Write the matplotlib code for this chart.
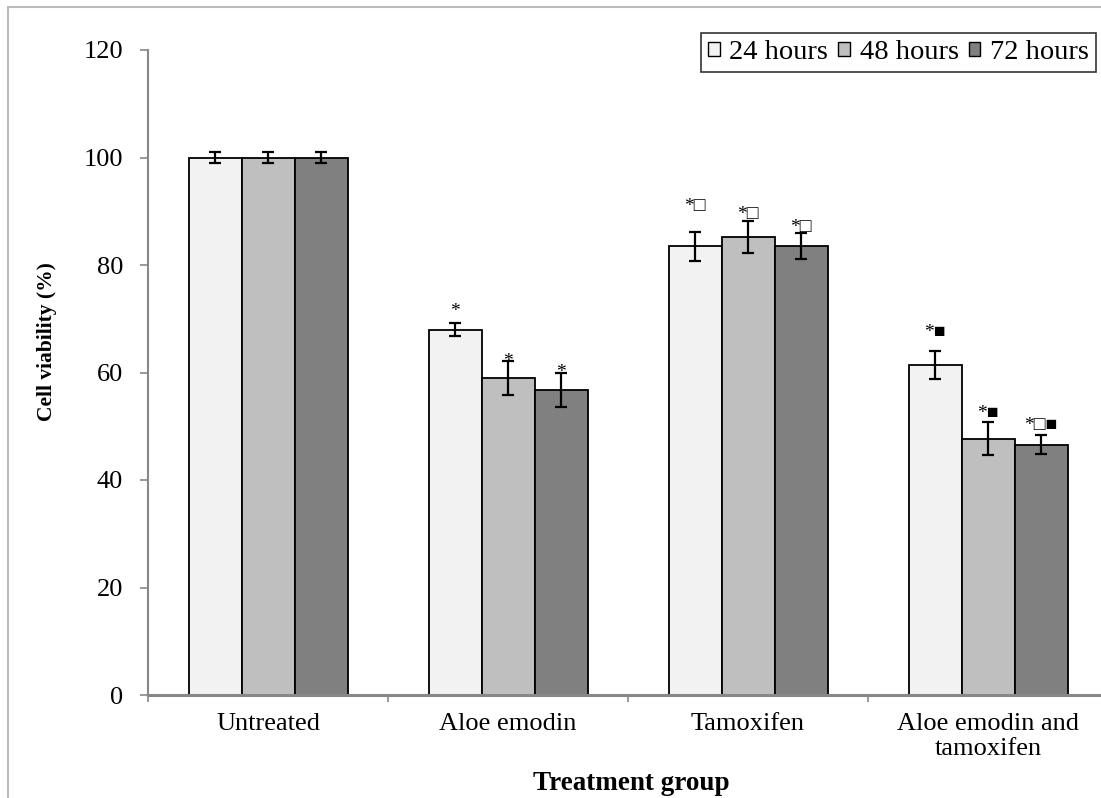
import matplotlib
matplotlib.use("Agg")
import matplotlib.pyplot as plt
import numpy as np
from matplotlib.patches import Rectangle
from matplotlib.ticker import FixedLocator

categories = ["Untreated", "Aloe emodin", "Tamoxifen", "Aloe emodin and\ntamoxifen"]
series_names = ["24 hours", "48 hours", "72 hours"]
values = {
    "24 hours": [100.0, 68.0, 83.5, 61.4],
    "48 hours": [100.0, 59.0, 85.2, 47.7],
    "72 hours": [100.0, 56.8, 83.5, 46.6],
}
errors = {
    "24 hours": [1.0, 1.3, 2.7, 2.6],
    "48 hours": [1.0, 3.1, 3.0, 3.0],
    "72 hours": [1.0, 3.2, 2.4, 1.7],
}
annotations = {
    "24 hours": ["", "*", "*\u25a1", "*\u25a0"],
    "48 hours": ["", "*", "*\u25a1", "*\u25a0"],
    "72 hours": ["", "*", "*\u25a1", "*\u25a1\u25a0"],
}
yticks = [0, 20, 40, 60, 80, 100, 120]

colors = ["#F2F2F2", "#BFBFBF", "#808080"]
# annotation offset above the error cap, in pixels (layout)
ann_offset_px = {
    "24 hours": [0, 11, 25, 19],
    "48 hours": [0, 0, 6, 9],
    "72 hours": [0, 0, 6, 10],
}

W, H = 1101, 798
AX_L, AX_R, AX_T, AX_B = 148, 1108, 50, 695
AW, AH = AX_R - AX_L, AX_B - AX_T
PT = 0.72  # points per pixel at dpi 100

fig = plt.figure(figsize=(W / 100, H / 100), dpi=100)
plt.rcParams["font.family"] = ["Liberation Serif", "DejaVu Sans"]

# outer gray frame
fig.patches.append(Rectangle((8 / W, -0.1), 1.2, 1 - 7 / H + 0.1,
                             transform=fig.transFigure, fill=False,
                             edgecolor="#BBBBBB", linewidth=1.5))

ax = fig.add_axes([AX_L / W, 1 - AX_B / H, AW / W, AH / H])

x = np.arange(len(categories))
bw = 53 / 240
for i, name in enumerate(series_names):
    pos = x + (i - 1) * bw
    ax.bar(pos, values[name], width=bw, color=colors[i], edgecolor="black",
           linewidth=1.3, label=name, zorder=2)
    ax.errorbar(pos, values[name], yerr=errors[name], fmt="none",
                ecolor="black", elinewidth=1.6, capsize=4, capthick=1.6, zorder=3)
    for j, txt in enumerate(annotations[name]):
        if not txt:
            continue
        top = values[name][j] + errors[name][j]
        ax.annotate(txt, (pos[j], top), xytext=(0, ann_offset_px[name][j] * PT),
                    textcoords="offset points", ha="center", va="center",
                    fontsize=14, family=["Liberation Serif", "DejaVu Sans"], zorder=4)

ax.set_xlim(-0.5, len(categories) - 0.5)
ax.set_ylim(0, 120)
ax.set_yticks(yticks)
ax.set_yticklabels([str(t) for t in yticks])
ax.set_xticks(x)
ax.set_xticklabels(categories, linespacing=1.2)
ax.xaxis.set_minor_locator(FixedLocator(np.arange(-0.5, len(categories), 1.0)))

for s in ["top", "right"]:
    ax.spines[s].set_visible(False)
ax.spines["left"].set_color("#888888")
ax.spines["left"].set_linewidth(1.5)
ax.spines["bottom"].set_color("#888888")
ax.spines["bottom"].set_linewidth(2.2)

ax.tick_params(axis="y", direction="out", length=6, width=1.2, color="#888888",
               pad=12, labelsize=19)
ax.tick_params(axis="x", which="major", length=0, pad=13, labelsize=19)
ax.tick_params(axis="x", which="minor", direction="out", length=5, width=1.2,
               color="#888888")

ax.set_ylabel("Cell viability (%)", fontsize=15.5, fontweight="bold")
ax.yaxis.set_label_coords(-(AX_L - 47) / AW, (AX_B - 342) / AH)
ax.yaxis.label.set_verticalalignment("center")
ax.set_xlabel("Treatment group", fontsize=19.5, fontweight="bold")
ax.xaxis.set_label_coords((631 - AX_L) / AW, -(783 - AX_B) / AH)
ax.xaxis.label.set_verticalalignment("center")

leg = ax.legend(loc="upper right",
                bbox_to_anchor=((1096 - AX_L) / AW, 1 + (AX_T - 33) / AH),
                ncol=3, frameon=True, fancybox=False, fontsize=20.5,
                handlelength=0.4, handleheight=0.4, handletextpad=0.35,
                columnspacing=0.35, borderpad=0.25, borderaxespad=0)
leg.get_frame().set_edgecolor("black")
leg.get_frame().set_linewidth(1.2)
for h in leg.legend_handles:
    h.set_linewidth(1.0)

fig.savefig("out.png", dpi=100)
